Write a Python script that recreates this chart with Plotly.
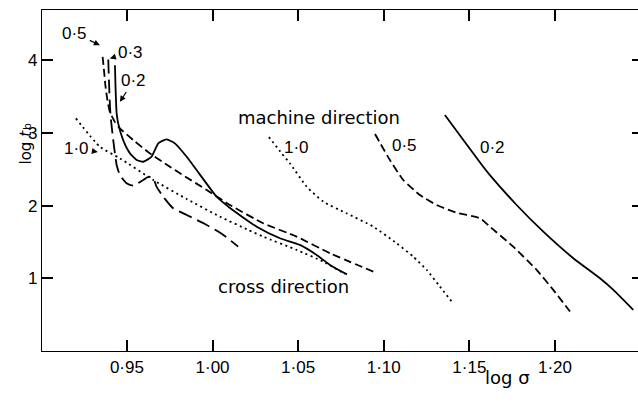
import plotly.graph_objects as go

# ---------------- data (log sigma, log t_b) ----------------
# cross direction
cross_02_x = [0.943, 0.9434, 0.944, 0.9449, 0.9478, 0.9518, 0.9557, 0.9595, 0.9644, 0.9683, 0.9732,
              0.978, 0.9849, 0.9907, 1.0024, 1.0102, 1.0258, 1.0394, 1.051, 1.0608, 1.0686, 1.0785]
cross_02_y = [3.931, 3.588, 3.268, 3.13, 2.901, 2.718, 2.626, 2.603, 2.672, 2.856, 2.911,
              2.856, 2.672, 2.489, 2.122, 1.967, 1.71, 1.551, 1.459, 1.321, 1.184, 1.054]

cross_03_x = [0.9391, 0.9395, 0.9401, 0.9407, 0.942, 0.944, 0.9459, 0.9498, 0.9537, 0.9595,
              0.9629, 0.9654, 0.9673, 0.9712, 0.977, 0.9849, 0.9966, 1.0063, 1.015]
cross_03_y = [4.01, 3.725, 3.359, 3.176, 2.901, 2.558, 2.42, 2.306, 2.276, 2.352,
              2.397, 2.375, 2.26, 2.122, 1.963, 1.871, 1.734, 1.596, 1.436]

cross_05_x = [0.9358, 0.9366, 0.9374, 0.9386, 0.9401, 0.943, 0.9459, 0.9537, 0.9634, 0.9751,
              0.981, 0.9966, 1.0102, 1.0296, 1.0491, 1.0686, 1.0939]
cross_05_y = [4.045, 3.863, 3.657, 3.451, 3.286, 3.148, 3.062, 2.901, 2.718, 2.534,
              2.444, 2.214, 2.008, 1.757, 1.573, 1.345, 1.092]

cross_10_x = [0.9202, 0.9342, 0.9459, 0.9654, 0.9849, 1.0043, 1.0209, 1.0296, 1.0491, 1.0647, 1.0773]
cross_10_y = [3.199, 2.809, 2.65, 2.352, 2.091, 1.848, 1.665, 1.573, 1.39, 1.229, 1.06]

# machine direction
mach_10_x = [1.0329, 1.0404, 1.0452, 1.055, 1.0647, 1.0783, 1.0939, 1.1075, 1.1172, 1.1251, 1.1328, 1.1397]
mach_10_y = [2.942, 2.718, 2.581, 2.26, 2.054, 1.894, 1.71, 1.482, 1.298, 1.115, 0.886, 0.68]

mach_05_x = [1.0949, 1.1036, 1.1114, 1.1211, 1.1309, 1.1426, 1.1562, 1.162, 1.1756, 1.1893, 1.199, 1.2088]
mach_05_y = [2.984, 2.626, 2.352, 2.146, 2.008, 1.902, 1.826, 1.71, 1.435, 1.115, 0.841, 0.543]

mach_02_x = [1.1357, 1.1581, 1.162, 1.1776, 1.1932, 1.2107, 1.2263, 1.2341, 1.2457]
mach_02_y = [3.245, 2.534, 2.42, 2.008, 1.641, 1.276, 1.0, 0.84, 0.566]

x_tickvals = [0.95, 1.00, 1.05, 1.10, 1.15, 1.20]
x_ticktext = ["0·95", "1·00", "1·05", "1·10", "1·15", "1·20"]
y_tickvals = [1, 2, 3, 4]
y_ticktext = ["1", "2", "3", "4"]

X_RANGE = [0.9004, 1.2485]
Y_RANGE = [0.0, 4.69]

WORD_FONT = dict(family="DejaVu Sans", size=18, color="black")
NUM_FONT = dict(family="Liberation Sans", size=17, color="black")

SOLID = "solid"
DASH = "8px,4px"
LONGDASH = "14px,6px"
DOT = "2px,3.5px"

fig = go.Figure()

def add_line(x, y, dash):
    fig.add_trace(go.Scatter(
        x=x, y=y, mode="lines",
        line=dict(color="black", width=1.8, dash=dash, shape="spline", smoothing=0.5),
        hoverinfo="skip", showlegend=False))

add_line(cross_02_x, cross_02_y, SOLID)
add_line(cross_03_x, cross_03_y, LONGDASH)
add_line(cross_05_x, cross_05_y, DASH)
add_line(cross_10_x, cross_10_y, DOT)
add_line(mach_10_x, mach_10_y, DOT)
add_line(mach_05_x, mach_05_y, DASH)
add_line(mach_02_x, mach_02_y, SOLID)

# dummy trace for right-hand tick axis
fig.add_trace(go.Scatter(x=[None], y=[None], yaxis="y2", mode="lines",
                         hoverinfo="skip", showlegend=False))

# plain text labels
labels = [
    ("machine direction", 1.0619, 3.217, WORD_FONT),
    ("cross direction", 1.0414, 0.882, WORD_FONT),
    ("1·0", 1.0493, 2.805, NUM_FONT),
    ("0·5", 1.1124, 2.832, NUM_FONT),
    ("0·2", 1.1638, 2.805, NUM_FONT),
]
for t, x, y, f in labels:
    fig.add_annotation(text=t, x=x, y=y, xref="x", yref="y", showarrow=False, font=f)

# labels with arrows: (text, label centre, arrow head)
arrow_labels = [
    ("0·5", (0.9196, 4.371), (0.9342, 4.206)),
    ("0·3", (0.9518, 4.11), (0.9401, 4.023)),
    ("0·2", (0.9541, 3.725), (0.9459, 3.427)),
    ("1·0", (0.9208, 2.791), (0.933, 2.736)),
]
for t, (tx, ty), (hx, hy) in arrow_labels:
    fig.add_annotation(text=t, x=hx, y=hy, ax=tx, ay=ty, xref="x", yref="y",
                       axref="x", ayref="y", showarrow=True, arrowhead=2,
                       arrowsize=1, arrowwidth=1.2, arrowcolor="black",
                       standoff=0, startstandoff=1, font=NUM_FONT)

# axis titles
fig.add_annotation(text="log <i>t</i>", xref="paper", yref="paper",
                   x=-0.0453, y=0.5968, textangle=-90, showarrow=False,
                   font=dict(family="DejaVu Sans", size=15, color="black"))
fig.add_annotation(text="b", xref="paper", yref="paper",
                   x=-0.0386, y=0.6745, textangle=-90, showarrow=False,
                   font=dict(family="DejaVu Sans", size=11, color="black"))
fig.add_annotation(text="log σ", xref="x", yref="paper", x=1.172, y=-0.114,
                   showarrow=False, font=WORD_FONT)

fig.update_layout(
    template="none",
    width=638, height=402,
    margin=dict(l=42, r=0, t=10, b=51, autoexpand=False),
    plot_bgcolor="white", paper_bgcolor="white",
    xaxis=dict(range=X_RANGE, tickmode="array", tickvals=x_tickvals, ticktext=x_ticktext,
               ticks="inside", ticklen=11, tickwidth=1.5, tickcolor="black",
               showline=True, linecolor="black", linewidth=1.3, mirror="ticks",
               showgrid=False, zeroline=False, tickfont=NUM_FONT, automargin=False),
    yaxis=dict(range=Y_RANGE, tickmode="array", tickvals=y_tickvals, ticktext=y_ticktext,
               ticks="inside", ticklen=11, tickwidth=1.5, tickcolor="black",
               showline=True, linecolor="black", linewidth=1.3,
               showgrid=False, zeroline=False, tickfont=NUM_FONT, automargin=False),
    yaxis2=dict(range=Y_RANGE, tickmode="array", tickvals=y_tickvals, overlaying="y", side="right",
                ticks="inside", ticklen=6, tickwidth=1.5, tickcolor="black",
                showticklabels=False, showline=False, showgrid=False, zeroline=False,
                automargin=False),
)

fig.write_html("out.html", config={"displayModeBar": False},
               post_script="document.body.style.margin='0';document.body.style.padding='0';")
